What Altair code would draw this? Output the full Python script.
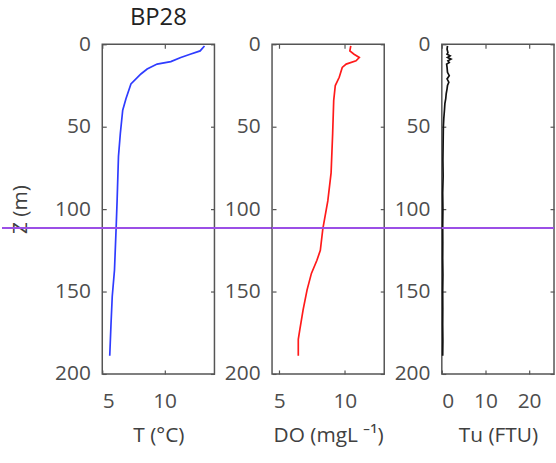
import altair as alt
import pandas as pd

# ---- data ----
depth_T = [1, 4, 6, 8, 10.5, 12, 15, 18, 24, 33, 40, 54, 68, 95, 112, 137, 153, 170, 189]
temp = [13.2, 12.85, 12.05, 11.3, 10.5, 9.4, 8.6, 8.1, 7.3, 6.9, 6.64, 6.45, 6.3, 6.19, 6.11, 5.98, 5.8, 5.7, 5.6]

depth_DO = [1, 4, 6, 8, 10, 12, 14, 20, 25, 34, 54, 78, 95, 112, 125, 131, 139, 149, 161, 173, 179, 189]
do_vals = [10.45, 10.38, 10.7, 11.1, 10.85, 10.1, 9.8, 9.57, 9.27, 9.15, 9.07, 8.95, 8.7, 8.32, 8.13, 7.87, 7.45, 7.12, 6.82, 6.57, 6.45, 6.45]

depth_Tu = [1, 3, 5, 6, 7, 8, 9, 10, 11, 12, 14, 17, 19, 21, 23, 25, 27, 30, 33, 36, 40, 45, 50,
            60, 70, 80, 90, 100, 110, 120, 130, 140, 150, 160, 170, 180, 189]
tu = [1.3, 1.2, 1.4, 1.2, 1.9, 1.3, 2.1, 1.4, 1.7, 1.1, 1.2, 1.3, 1.7, 1.2, 1.6, 1.3, 1.2, 1.0, 0.9, 0.7, 0.6, 0.45, 0.35,
      0.3, 0.25, 0.3, 0.2, 0.25, 0.2, 0.22, 0.2, 0.25, 0.2, 0.22, 0.2, 0.24, 0.2]

marker_depth = [111.5]
z_ticks = [0, 50, 100, 150, 200]

FONT = "Open Sans"
W, H, GAP = 113, 332, 58
TK = 4  # inward tick length

yscale = alt.Scale(domain=[0, 200], reverse=True, nice=False)


def panel(depths, values, color, domain, ticks, xtitle, ytitle, rule_left, rule_right, title=None):
    df = pd.DataFrame({"z": depths, "v": values})
    xscale = alt.Scale(domain=domain, nice=False, zero=False)
    line = alt.Chart(df).mark_line(color=color, strokeWidth=1.7).encode(
        x=alt.X("v:Q", scale=xscale,
                axis=alt.Axis(values=ticks, title=xtitle, grid=False, domain=False,
                              tickSize=TK, offset=-TK, labelPadding=13 + TK, titlePadding=13)),
        y=alt.Y("z:Q", scale=yscale,
                axis=alt.Axis(values=z_ticks, title=ytitle, grid=False, domain=False,
                              tickSize=TK, offset=-TK, labelPadding=8 + TK, titlePadding=24)),
        order="z:Q",
    )
    mirror = alt.Chart(df).mark_line(opacity=0).encode(
        x=alt.X("v:Q", scale=xscale,
                axis=alt.Axis(values=ticks, title=None, labels=False, grid=False, domain=False,
                              orient="top", tickSize=TK, offset=-TK)),
        y=alt.Y("z:Q", scale=yscale,
                axis=alt.Axis(values=z_ticks, title=None, labels=False, grid=False, domain=False,
                              orient="right", tickSize=TK, offset=-TK)),
        order="z:Q",
    )
    rule = alt.Chart(pd.DataFrame({"z": marker_depth})).mark_rule(
        color="#9b4fe6", strokeWidth=2, clip=False
    ).encode(
        y=alt.Y("z:Q", scale=yscale, axis=None),
        x=alt.value(rule_left),
        x2=alt.value(rule_right),
    )
    props = dict(width=W, height=H)
    if title:
        props["title"] = alt.TitleParams(title, fontSize=24, font=FONT, color="#222222",
                                         fontWeight="normal", anchor="middle", offset=3)
    return alt.layer(mirror, line, rule).resolve_axis(x="independent", y="independent").properties(**props)


p1 = panel(depth_T, temp, "#2f3cff", [5, 14], [5, 10], "T (°C)", "Z (m)", -101, W + GAP, title="BP28")
p2 = panel(depth_DO, do_vals, "#ff1a1a", [4.45, 13], [5, 10], "DO (mgL ⁻¹)", None, 0, W + GAP)
p3 = panel(depth_Tu, tu, "#111111", [0, 25.7], [0, 10, 20], "Tu (FTU)", None, 0, W)

chart = alt.hconcat(p1, p2, p3, spacing=GAP, bounds="flush").properties(
    padding={"left": 0, "right": 0, "top": 4, "bottom": 5}
).configure_view(
    stroke="#555555", strokeWidth=1.5
).configure_axis(
    labelFont=FONT, titleFont=FONT, labelFontSize=21, titleFontSize=21,
    labelColor="#4d4d4d", titleColor="#404040", titleFontWeight="normal",
    tickColor="#555555", tickWidth=1.2
)

chart.save("out.html", embed_options={"renderer": "svg", "actions": False})
